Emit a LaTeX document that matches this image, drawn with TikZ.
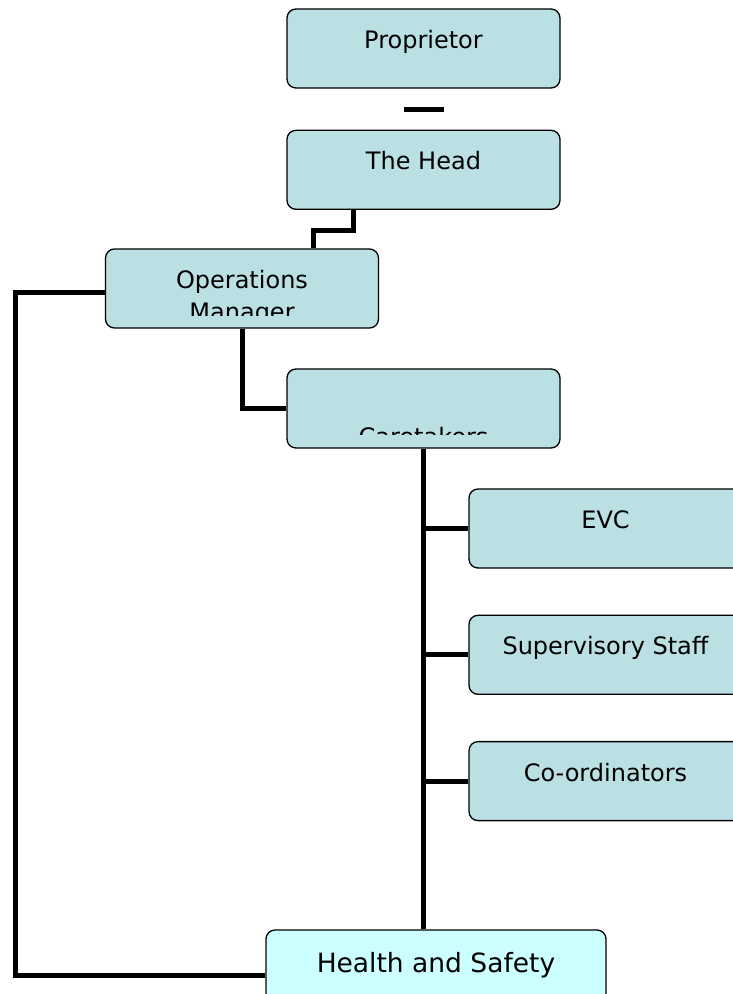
\documentclass[tikz,border=0pt]{standalone}
\usepackage{fontspec}
\setmainfont{DejaVu Sans}
\usepackage{xcolor}
\usepackage{tikz}
\definecolor{postblue}{HTML}{BBE0E3}
\definecolor{safetycyan}{HTML}{CCFFFF}
\usetikzlibrary{positioning, calc}

\begin{document}
\begin{tikzpicture}[
    x=1pt, y=-1pt,
    post/.style={rectangle, rounded corners=9pt, draw, line width=1.3pt, fill=postblue, minimum width=273pt, minimum height=79pt, inner sep=0pt, text height=9pt, text depth=9pt, font=\fontsize{24}{29}\selectfont},
    safety/.style={post, fill=safetycyan, minimum width=340pt, minimum height=84pt, font=\fontsize{26.5}{32}\selectfont},
    postname/.style={anchor=base, inner sep=0pt, font=\fontsize{24}{29}\selectfont},
    wire/.style={line width=5pt},
]
\useasboundingbox (0,0) rectangle (733,994);

\node[post] (prop) at (423.5,48.5) {Proprietor};
\node[post, below=41pt of prop] (head) {The Head};
\node[post] (ops) at (242,288.5) {Operations};
\node[post] (care) at (423.5,408.5) {};
\node[post] (evc) at (605.5,528.5) {EVC};
\node[post, below=46pt of evc] (sup) {Supervisory Staff};
\node[post, below=46pt of sup] (coord) {Co-ordinators};
\node[safety] (hs) at (436,972) {Health and Safety};

% text cut off at the bottom of its box
\begin{scope}
  \clip (106,250) rectangle (378,315);
  \node[postname] (opsname) at ([yshift=-32pt]ops.center) {Manager};
\end{scope}
\begin{scope}
  \clip (287,370) rectangle (560,434);
  \node[postname] (carename) at ([yshift=-36.5pt]care.center) {Caretakers};
\end{scope}

\draw[wire] ($(prop.south)!.5!(head.north)+(-20,0)$) -- ++(40,0);
\draw[wire] ([xshift=-70.5pt]head.south) -- ++(0,21) -| ([xshift=71pt]ops.north);
\draw[wire] (ops.south) |- (care.west);
\draw[wire] (care.south) -- (care.south |- hs.north);
\foreach \n in {evc, sup, coord}
  \draw[wire] (care.south |- \n.west) -- (\n.west);

\coordinate (rail) at (15.5,0);
\draw[wire] ([yshift=-4pt]ops.west) -| ([yshift=-3pt]rail |- hs.west) -- ([yshift=-3pt]hs.west);
\end{tikzpicture}
\end{document}
